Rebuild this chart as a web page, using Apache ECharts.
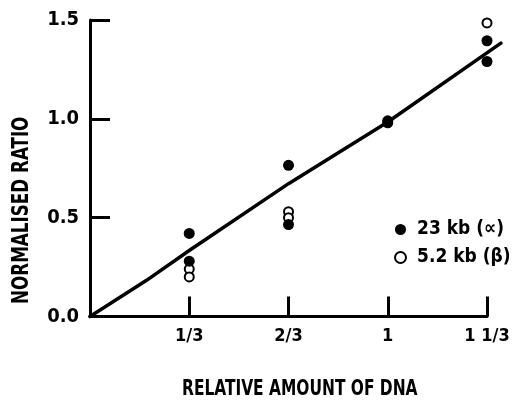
<!DOCTYPE html>
<html><head><meta charset="utf-8">
<script src="https://cdn.jsdelivr.net/npm/echarts@6/dist/echarts.min.js"></script>
<style>html,body{margin:0;padding:0;background:#fff}#c{width:514px;height:400px}</style>
</head><body><div id="c"></div>
<script>
var xTickLabels = ['', '1/3', '2/3', '1', '1 1/3'];
var yTickLabels = ['0.0', '0.5', '1.0', '1.5'];
var seriesNames = ['23 kb (\u221D)', '5.2 kb (\u03B2)'];
var filled23kb = [[1/3,0.42],[1/3,0.28],[2/3,0.765],[2/3,0.465],[1,0.98],[1,0.99],[4/3,1.395],[4/3,1.29]];
var open52kb = [[1/3,0.24],[1/3,0.20],[2/3,0.53],[2/3,0.50],[4/3,1.485]];
var fitLine = [[0,0],[0.19,0.183],[1/3,0.334],[2/3,0.672],[1,0.984],[1.38,1.383]];

var FONT = '"DejaVu Sans Condensed","Liberation Sans",sans-serif';
var XMAX = 4/3, XEXT = 1.38;
var plotW = 514 - 90 - 27;
var extRight = 514 - 90 - plotW * XEXT / XMAX;
var chart = echarts.init(document.getElementById('c'), null, {renderer:'canvas'});
chart.setOption({
  animation:false,
  backgroundColor:'#fff',
  grid:[{left:90, right:27, top:20, bottom:83.5},
        {left:90, right:extRight, top:20, bottom:83.5}],
  xAxis:[{type:'value', min:0, max:XMAX, interval:1/3, gridIndex:0,
    axisLine:{lineStyle:{color:'#000', width:3}},
    axisTick:{inside:true, length:20, lineStyle:{color:'#000', width:3}},
    splitLine:{show:false},
    axisLabel:{margin:11, color:'#000', fontFamily:FONT, fontWeight:'bold', fontSize:18,
      formatter:function(v){var i=Math.round(v*3);return xTickLabels[i]||'';}}
  },{type:'value', min:0, max:XEXT, gridIndex:1, show:false}],
  yAxis:[{type:'value', min:0, max:1.5, interval:0.5, gridIndex:0,
    axisLine:{lineStyle:{color:'#000', width:3}},
    axisTick:{inside:true, length:20, lineStyle:{color:'#000', width:3}},
    splitLine:{show:false},
    axisLabel:{margin:11, color:'#000', fontFamily:FONT, fontWeight:'bold', fontSize:20,
      formatter:function(v){var i=Math.round(v*2);return yTickLabels[i]||'';}}
  },{type:'value', min:0, max:1.5, gridIndex:1, show:false}],
  legend:{orient:'vertical', left:394, top:220, itemGap:9, itemWidth:11, itemHeight:11, padding:0,
    data:[{name:seriesNames[0], icon:'circle'},{name:seriesNames[1], icon:'circle'}],
    textStyle:{color:'#000', fontFamily:FONT, fontWeight:'bold', fontSize:19, padding:[0,0,0,6]}},
  graphic:[
    {type:'text', x:182, y:378, scaleX:0.78, style:{text:'RELATIVE AMOUNT OF DNA', fill:'#000', font:'bold 22px '+FONT}},
    {type:'text', x:11, y:304, rotation:Math.PI/2, scaleX:0.81, style:{text:'NORMALISED RATIO', fill:'#000', font:'bold 23px '+FONT}}
  ],
  series:[
    {type:'line', data:fitLine, xAxisIndex:1, yAxisIndex:1, showSymbol:false, symbol:'none', clip:false,
      lineStyle:{color:'#000', width:3.5, join:'round', cap:'round'}, silent:true, z:1},
    {name:seriesNames[1], type:'scatter', data:open52kb, symbol:'circle', symbolSize:9,
      itemStyle:{color:'#fff', borderColor:'#000', borderWidth:2, opacity:1}, z:2},
    {name:seriesNames[0], type:'scatter', data:filled23kb, symbol:'circle', symbolSize:11,
      itemStyle:{color:'#000', opacity:1}, z:3}
  ]
});
</script></body></html>
